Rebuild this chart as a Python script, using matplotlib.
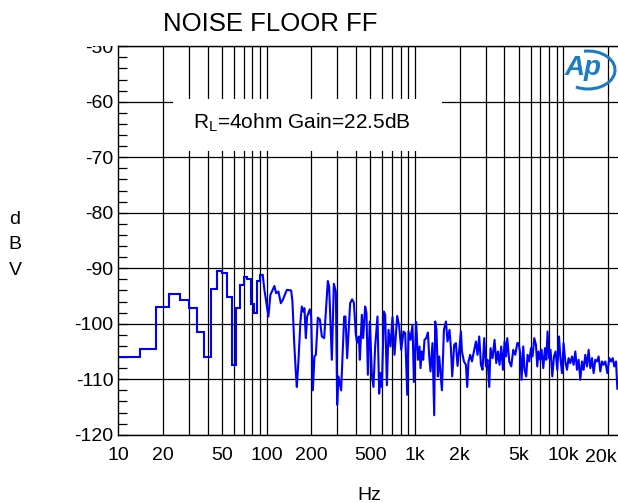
import numpy as np
import matplotlib
matplotlib.use('Agg')
import matplotlib.pyplot as plt
from matplotlib.ticker import FixedLocator, FixedFormatter, MultipleLocator, NullFormatter
from matplotlib.patches import Rectangle, Arc

plt.rcParams['font.family'] = ['Liberation Sans', 'DejaVu Sans']
plt.rcParams['mathtext.fontset'] = 'custom'
plt.rcParams['mathtext.rm'] = 'Liberation Sans'
plt.rcParams['axes.unicode_minus'] = False

# low end of the FFT, 4 Hz wide bins (drawn as steps)
bin_edges = [10, 14, 18, 22, 26, 30, 34, 38, 42, 46, 50, 54, 58, 62, 66, 70, 74, 78, 82, 86, 90, 94]
bin_db = [-106.0, -104.5, -96.9, -94.6, -95.7, -97.2, -101.5, -106.0, -93.7, -90.5, -90.9,
          -95.1, -107.5, -97.2, -93.1, -91.6, -91.9, -96.5, -98.0, -92.3, -91.2]

# rest of the spectrum
line_freq = [94, 96.5, 98.6, 102.7, 105.9, 112.7, 115.7, 120.0, 124.5, 128.4,
             136.6, 146.1, 149.1, 153.1, 157.2, 159.6, 163.6, 168.8, 172.5, 176.8,
             179.6, 183.5, 187.3, 195.3, 199.3, 204.7, 209.8, 214.4, 221.1, 228.1,
             235.3, 243.9, 258.2, 263.5, 274.8, 283.5, 292.4, 298.4, 304.5, 317.5,
             332.6, 339.4, 348.5, 365.1, 376.6, 386.7, 398.9, 407.0, 417.9, 424.4,
             437.8, 446.7, 460.8, 470.2, 480.5, 495.7, 511.3, 524.2, 538.2, 557.9,
             572.8, 584.5, 597.3, 616.2, 628.8, 645.6, 662.0, 682.9, 704.4, 726.6,
             757.7, 781.6, 806.3, 835.6, 857.8, 884.9, 903.0, 931.1, 960.5, 981.5,
             1017, 1044, 1071, 1088, 1111, 1134, 1157, 1188, 1220, 1245,
             1270, 1310, 1345, 1366, 1394, 1424, 1454, 1484, 1516, 1564,
             1614, 1654, 1706, 1743, 1779, 1835, 1884, 1932, 1984, 2037,
             2069, 2134, 2200, 2245, 2291, 2352, 2415, 2492, 2570, 2635,
             2705, 2778, 2848, 2924, 3002, 3077, 3160, 3224, 3326, 3431,
             3523, 3617, 3708, 3807, 3909, 4008, 4096, 4180, 4312, 4446,
             4587, 4732, 4882,
             4981, 5111, 5216, 5356, 5466, 5612, 5728, 5881, 6037, 6189,
             6355, 6524, 6657, 6793, 6975, 7117, 7308, 7503, 7656, 7812,
             7984, 8185, 8404, 8630, 8845, 9083, 9326, 9515, 9770, 10016,
             10283, 10558, 10824, 11114, 11411, 11700, 12013, 12335, 12645, 12984,
             13331, 13666, 14030, 14406, 14769, 15162, 15568, 15960, 16388, 16825,
             17248, 17711, 18183, 18641, 19141, 19746, 20365, 20911, 21438, 22012,
             22599, 23060]
line_db = [-91.2, -93.9, -95.5, -98.7, -94.8, -93.2, -94.5, -94.2, -96.3, -95.7,
           -93.9, -94.0, -96.0, -103.2, -108.9, -111.4, -106.8, -99.6, -96.9, -97.8,
           -97.2, -102.6, -98.7, -97.4, -98.7, -112.0, -105.9, -105.6, -98.9, -99.2,
           -102.3, -102.6, -92.3, -93.3, -106.5, -92.8, -94.2, -114.6, -109.5, -112.0,
           -98.7, -98.7, -106.2, -96.3, -95.6, -96.2, -102.0, -103.4, -102.3, -106.5,
           -98.4, -102.6, -96.9, -98.1, -109.2, -99.6, -109.2, -111.4, -104.1, -98.7,
           -112.6, -108.9, -111.4, -97.8, -98.4, -111.1, -101.1, -104.1, -98.8, -105.6,
           -98.6, -100.5, -104.7, -101.4, -101.7, -112.8, -101.4, -102.9, -100.2, -110.5,
           -99.7, -106.5, -104.1, -108.0, -105.0, -106.5, -102.9, -102.6, -101.6, -105.9,
           -108.6, -103.5, -116.5, -99.6, -101.1, -109.5, -105.9, -108.9, -112.0, -101.1,
           -99.6, -103.2, -101.1, -104.4, -109.5, -103.8, -103.5, -107.6, -104.7, -101.4,
           -105.0, -106.8, -107.4, -111.4, -106.8, -105.6, -106.8, -105.0, -103.2, -105.6,
           -102.3, -107.4, -108.3, -102.6, -107.7, -106.5, -111.4, -104.4, -106.2, -102.9,
           -107.1, -105.0, -107.4, -104.1, -108.3, -103.2, -105.9, -102.6, -106.8, -107.7,
           -104.7, -105.6, -103.5,
           -103.5, -105.3, -110.1, -104.1, -108.3, -109.5, -105.6, -106.8, -104.4, -105.9,
           -102.6, -103.8, -107.7, -105.0, -106.5, -104.7, -108.0, -104.4, -106.5, -101.4,
           -106.2, -104.7, -109.5, -105.9, -105.0, -108.3, -102.3, -105.9, -108.9, -103.5,
           -106.8, -108.3, -106.2, -107.1, -105.9, -107.4, -105.0, -108.3, -106.5, -110.1,
           -106.8, -108.3, -105.6, -107.7, -104.7, -108.0, -106.2, -108.9, -106.5, -106.8,
           -105.9, -108.6, -106.8, -107.4, -106.8, -108.9, -106.2, -106.8, -106.2, -107.7,
           -106.8, -111.7]

x_ticks = [10, 20, 50, 100, 200, 500, 1000, 2000, 5000, 10000, 20000]
x_labels = ['10', '20', '50', '100', '200', '500', '1k', '2k', '5k', '10k', '']
grid_freqs = [m * 10 ** e for e in range(1, 5) for m in range(1, 10) if m * 10 ** e <= 20000][1:]
y_ticks = [-120, -110, -100, -90, -80, -70, -60, -50]

W, H = 618, 503
fig = plt.figure(figsize=(W / 100, H / 100), dpi=100)
ax = fig.add_axes([118.3 / W, (H - 434.7) / H, 499.7 / W, 388.4 / H])

ax.set_xscale('log')
ax.set_xlim(10, 23300)
ax.set_ylim(-120, -50)

# grid: every 1..9 x decade vertically, every 10 dB horizontally
ax.xaxis.remove_overlapping_locs = False
ax.xaxis.set_major_locator(FixedLocator(x_ticks))
ax.xaxis.set_major_formatter(FixedFormatter(x_labels))
ax.xaxis.set_minor_locator(FixedLocator(grid_freqs))
ax.xaxis.set_minor_formatter(NullFormatter())
ax.yaxis.set_major_locator(FixedLocator(y_ticks))
ax.yaxis.set_minor_locator(MultipleLocator(2))
ax.set_axisbelow(True)
ax.grid(True, which='minor', axis='x', color='black', lw=0.9)
ax.grid(True, which='major', axis='y', color='black', lw=0.9)

ax.tick_params(axis='x', which='both', length=0, pad=9, labelsize=14)
ax.tick_params(axis='y', which='both', direction='in', length=6.5, width=0.9,
               pad=3.5, labelsize=14, right=False)
for s in ['left', 'bottom', 'top']:
    ax.spines[s].set_linewidth(1.0)
ax.spines['right'].set_visible(False)

# white label box cuts the grid
ax.add_patch(Rectangle((0.1089, 0.7312), 0.5395, 0.1339, transform=ax.transAxes,
                       facecolor='white', edgecolor='none', zorder=1))
ax.text(0.3676, 0.8038, r'R$_{\mathrm{L}}$=4ohm Gain=22.5dB', transform=ax.transAxes,
        ha='center', va='center', fontsize=15, zorder=3)

ax.stairs(bin_db, bin_edges, baseline=None, color='#0000ff', lw=1.5, zorder=2)
ax.plot(line_freq, line_db, color='#0000ff', lw=1.5, zorder=2)

# last x label is pulled in so it fits the picture
fig.text(601 / W, 1 - 457.5 / H, '20k', ha='center', va='center', fontsize=14)

# title, axis names
fig.text(270 / W, 1 - 24 / H, 'NOISE FLOOR FF', ha='center', va='center', fontsize=18.5)
fig.text(369 / W, 1 - 495 / H, 'Hz', ha='center', va='center', fontsize=14)
for i, ch in enumerate(['d', 'B', 'V']):
    fig.text(15 / W, 1 - (219 + 25.7 * i) / H, ch, ha='center', va='center', fontsize=14)

# Ap logo
fig.text(583 / W, 1 - 68 / H, 'Ap', ha='center', va='center', fontsize=20,
         fontweight='bold', fontstyle='italic', color='#1b7cc4')
fig.patches.append(Arc((588 / W, 1 - 70 / H), 54 / W, 38 / H, theta1=-120, theta2=100,
                       transform=fig.transFigure, color='#1b7cc4', lw=2.2))

# top of the -50 label is hidden in the original
fig.patches.append(Rectangle((60 / W, 1 - 45.8 / H), 57 / W, 45.8 / H, transform=fig.transFigure,
                             facecolor='white', edgecolor='none', zorder=5))

fig.savefig('out.png', dpi=100)
